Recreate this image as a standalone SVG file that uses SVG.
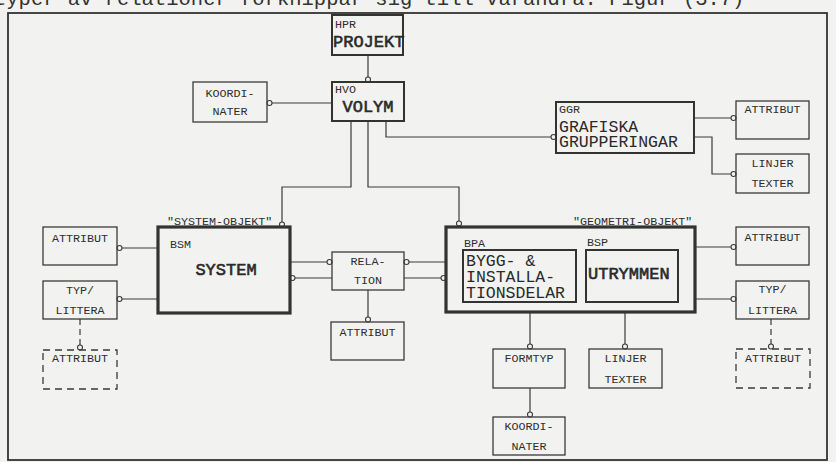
<svg xmlns="http://www.w3.org/2000/svg" width="836" height="462" viewBox="0 0 836 462">
<style>
.bg{fill:#f2f2f0}
.box{fill:none;stroke:#3a3a3a;stroke-width:1.3}
.box2{fill:none;stroke:#333;stroke-width:2}
.box3{fill:none;stroke:#333;stroke-width:3.2}
.dash{fill:none;stroke:#3a3a3a;stroke-width:1.3;stroke-dasharray:7 5}
.ln{fill:none;stroke:#3a3a3a;stroke-width:1.2}
.lnd{fill:none;stroke:#3a3a3a;stroke-width:1.2;stroke-dasharray:6 4}
.c{fill:#f2f2f0;stroke:#3a3a3a;stroke-width:1.1}
.s{font-family:"Liberation Mono",monospace;font-size:11.7px;fill:#2e2e2e}
.sm{font-family:"Liberation Mono",monospace;font-size:11.7px;fill:#2e2e2e;text-anchor:middle}
.b{font-family:"Liberation Mono",monospace;font-size:17px;fill:#2a2a2a;stroke:#2a2a2a;stroke-width:0.6}
.bm{font-family:"Liberation Mono",monospace;font-size:17px;fill:#2a2a2a;stroke:#2a2a2a;stroke-width:0.6;text-anchor:middle}
.l{font-family:"Liberation Mono",monospace;font-size:16.5px;fill:#2a2a2a}
.top{font-family:"Liberation Mono",monospace;font-size:20.5px;fill:#333}
</style>
<defs>
<circle id="o" r="2.5" class="c"/>
</defs>
<rect class="bg" x="0" y="0" width="836" height="462"/>
<text class="top" x="-6" y="5">typer av relationer förknippar sig till varandra. Figur (3:7)</text>
<rect x="8" y="13" width="819" height="447" fill="none" stroke="#333" stroke-width="1.8"/>

<g id="connectors">
<path class="ln" d="M368,55V77"/>
<path class="ln" d="M332,103H272"/>
<path class="ln" d="M386,121V137H551"/>
<path class="ln" d="M351,121V187H282V222"/>
<path class="ln" d="M368,121V187H459V221"/>
<path class="ln" d="M694,118H731"/>
<path class="ln" d="M694,137H712V174H731"/>
<path class="ln" d="M158,248H122"/>
<path class="ln" d="M158,299H122"/>
<path class="lnd" d="M80,319V345"/>
<path class="ln" d="M290,262H327"/>
<path class="ln" d="M295,278H332"/>
<path class="ln" d="M409,262H446"/>
<path class="ln" d="M404,278H441"/>
<path class="ln" d="M368,290V317"/>
<path class="ln" d="M695,247H731"/>
<path class="ln" d="M695,299H731"/>
<path class="lnd" d="M771,319V345"/>
<path class="ln" d="M530,312V344"/>
<path class="ln" d="M625,312V344"/>
<path class="ln" d="M530,388V412"/>
<use href="#o" x="368" y="79.5"/>
<use href="#o" x="269.5" y="103"/>
<use href="#o" x="553.5" y="137"/>
<use href="#o" x="282" y="224.5"/>
<use href="#o" x="459" y="223.5"/>
<use href="#o" x="733.5" y="118"/>
<use href="#o" x="733.5" y="174"/>
<use href="#o" x="119.5" y="248"/>
<use href="#o" x="119.5" y="299"/>
<use href="#o" x="80" y="347.5"/>
<use href="#o" x="329.5" y="262"/>
<use href="#o" x="292.5" y="278"/>
<use href="#o" x="406.5" y="262"/>
<use href="#o" x="443.5" y="278"/>
<use href="#o" x="368" y="319.5"/>
<use href="#o" x="733.5" y="247"/>
<use href="#o" x="733.5" y="299"/>
<use href="#o" x="771" y="346.5"/>
<use href="#o" x="530" y="346.5"/>
<use href="#o" x="625" y="346.5"/>
<use href="#o" x="530" y="414.5"/>
</g>

<g id="projekt">
<rect class="box2" x="332" y="15" width="71" height="40"/>
<text class="s" x="335" y="28">HPR</text>
<text class="b" x="333" y="47">PROJEKT</text>
</g>
<g id="volym">
<rect class="box2" x="332" y="82" width="72" height="39"/>
<text class="s" x="335" y="93">HVO</text>
<text class="bm" x="368" y="112">VOLYM</text>
</g>
<g id="koordinater1">
<rect class="box" x="193" y="82" width="74" height="40"/>
<text class="sm" x="230" y="97">KOORDI-</text>
<text class="sm" x="230" y="115">NATER</text>
</g>
<g id="ggr">
<rect class="box2" x="556" y="102" width="138" height="51"/>
<text class="s" x="559" y="113">GGR</text>
<text class="l" x="559" y="132">GRAFISKA</text>
<text class="l" x="559" y="147">GRUPPERINGAR</text>
</g>
<g id="attribut-ggr">
<rect class="box" x="736" y="101" width="73" height="38"/>
<text class="sm" x="772.5" y="113">ATTRIBUT</text>
</g>
<g id="linjer-ggr">
<rect class="box" x="736" y="154" width="73" height="39"/>
<text class="sm" x="772.5" y="167">LINJER</text>
<text class="sm" x="772.5" y="187">TEXTER</text>
</g>
<g id="system">
<text class="s" x="167" y="225">"SYSTEM-OBJEKT"</text>
<rect class="box3" x="158" y="227" width="132" height="86"/>
<text class="s" x="170" y="248">BSM</text>
<text class="bm" x="226" y="275">SYSTEM</text>
</g>
<g id="attribut-sys">
<rect class="box" x="43" y="227" width="74" height="38"/>
<text class="sm" x="80" y="242">ATTRIBUT</text>
</g>
<g id="typ-sys">
<rect class="box" x="43" y="281" width="74" height="38"/>
<text class="sm" x="80" y="294">TYP/</text>
<text class="sm" x="80" y="314">LITTERA</text>
</g>
<g id="attribut-sys-dashed">
<rect class="dash" x="43" y="350" width="74" height="39"/>
<text class="sm" x="80" y="362">ATTRIBUT</text>
</g>
<g id="relation">
<rect class="box" x="332" y="252" width="72" height="38"/>
<text class="sm" x="368" y="265">RELA-</text>
<text class="sm" x="368" y="284">TION</text>
</g>
<g id="attribut-rel">
<rect class="box" x="331" y="322" width="73" height="38"/>
<text class="sm" x="367.5" y="336">ATTRIBUT</text>
</g>
<g id="geometri">
<text class="s" x="573" y="225">"GEOMETRI-OBJEKT"</text>
<rect class="box3" x="446" y="227" width="249" height="85"/>
<text class="s" x="464" y="247">BPA</text>
<rect class="box2" x="463" y="250" width="113" height="52"/>
<text class="l" x="466" y="266">BYGG- &amp;</text>
<text class="l" x="466" y="282">INSTALLA-</text>
<text class="l" x="466" y="298">TIONSDELAR</text>
<text class="s" x="587" y="246">BSP</text>
<rect class="box2" x="586" y="250" width="92" height="52"/>
<text class="b" x="588" y="279">UTRYMMEN</text>
</g>
<g id="attribut-geo">
<rect class="box" x="736" y="227" width="73" height="38"/>
<text class="sm" x="772.5" y="241">ATTRIBUT</text>
</g>
<g id="typ-geo">
<rect class="box" x="736" y="281" width="73" height="38"/>
<text class="sm" x="772.5" y="293">TYP/</text>
<text class="sm" x="772.5" y="314">LITTERA</text>
</g>
<g id="attribut-geo-dashed">
<rect class="dash" x="736" y="349" width="74" height="39"/>
<text class="sm" x="773" y="362">ATTRIBUT</text>
</g>
<g id="formtyp">
<rect class="box" x="493" y="349" width="72" height="39"/>
<text class="sm" x="529" y="362">FORMTYP</text>
</g>
<g id="koordinater2">
<rect class="box" x="493" y="417" width="72" height="38"/>
<text class="sm" x="529" y="430">KOORDI-</text>
<text class="sm" x="529" y="450">NATER</text>
</g>
<g id="linjer-geo">
<rect class="box" x="589" y="349" width="73" height="39"/>
<text class="sm" x="625.5" y="362">LINJER</text>
<text class="sm" x="625.5" y="383">TEXTER</text>
</g>
</svg>
